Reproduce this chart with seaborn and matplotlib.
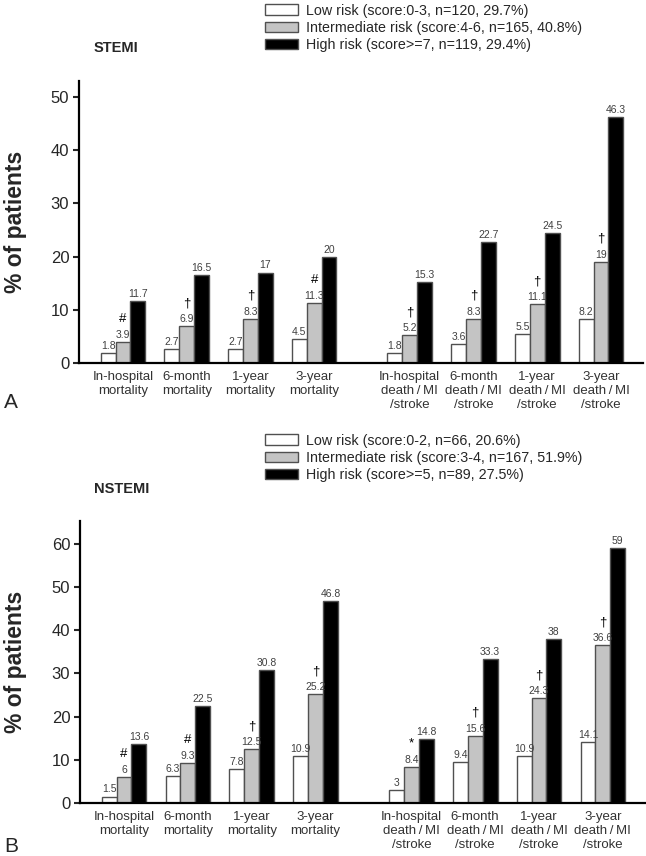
import numpy as np
import pandas as pd
import matplotlib
matplotlib.use("Agg")
import matplotlib.pyplot as plt
import seaborn as sns

# Data
categories = [
    "In-hospital\nmortality", "6-month\nmortality", "1-year\nmortality", "3-year\nmortality",
    "In-hospital\ndeath\u2009/\u2009MI\n/stroke", "6-month\ndeath\u2009/\u2009MI\n/stroke",
    "1-year\ndeath\u2009/\u2009MI\n/stroke", "3-year\ndeath\u2009/\u2009MI\n/stroke",
]
risk_levels = ["Low", "Intermediate", "High"]

stemi_low = [1.8, 2.7, 2.7, 4.5, 1.8, 3.6, 5.5, 8.2]
stemi_mid = [3.9, 6.9, 8.3, 11.3, 5.2, 8.3, 11.1, 19]
stemi_high = [11.7, 16.5, 17, 20, 15.3, 22.7, 24.5, 46.3]
stemi_marks = ["#", "†", "†", "#", "†", "†", "†", "†"]
stemi_legend = [
    "Low risk (score:0-3, n=120, 29.7%)",
    "Intermediate risk (score:4-6, n=165, 40.8%)",
    "High risk (score>=7, n=119, 29.4%)",
]

nstemi_low = [1.5, 6.3, 7.8, 10.9, 3, 9.4, 10.9, 14.1]
nstemi_mid = [6, 9.3, 12.5, 25.2, 8.4, 15.6, 24.3, 36.6]
nstemi_high = [13.6, 22.5, 30.8, 46.8, 14.8, 33.3, 38, 59]
nstemi_marks = ["#", "#", "†", "†", "*", "†", "†", "†"]
nstemi_legend = [
    "Low risk (score:0-2, n=66, 20.6%)",
    "Intermediate risk (score:3-4, n=167, 51.9%)",
    "High risk (score>=5, n=89, 27.5%)",
]

sns.set_style("ticks")
plt.rcParams["font.family"] = ["Liberation Sans", "DejaVu Sans"]

W, H = 646, 856
fig = plt.figure(figsize=(W / 100, H / 100), dpi=100)

# second block of outcomes sits a half-slot further right
idx = np.arange(len(categories))
xpos = idx + np.where(idx >= 4, 0.5, 0.0)


def draw_panel(ax, low, mid, high, marks, legend_labels, ymax, yticks, legend_top):
    df = pd.DataFrame({
        "pos": np.tile(xpos, 3),
        "value": low + mid + high,
        "risk": np.repeat(risk_levels, len(categories)),
    })
    sns.barplot(data=df, x="pos", y="value", hue="risk", hue_order=risk_levels,
                palette=["white", "#c4c4c4", "black"], native_scale=True,
                width=0.7, edgecolor="#505050", linewidth=1.0,
                errorbar=None, ax=ax)

    for cont, vals in zip(ax.containers, [low, mid, high]):
        ax.bar_label(cont, labels=[f"{v:g}" for v in vals], padding=1.5,
                     fontsize=7.5, color="#404040")

    for patch, m in zip(ax.containers[1], marks):
        ax.annotate(m, (patch.get_x() + patch.get_width() / 2, patch.get_height()),
                    xytext=(0, 16.5), textcoords="offset points",
                    ha="center", va="center", fontsize=9.5, color="black")

    handles, _ = ax.get_legend_handles_labels()
    ax.get_legend().remove()
    fig.legend(handles, legend_labels, loc="upper left",
               bbox_to_anchor=(265 / W, 1 - legend_top / H),
               frameon=False, fontsize=10.3, handlelength=2.3, handleheight=0.7,
               handletextpad=0.6, labelspacing=0.22, borderpad=0, borderaxespad=0)

    ax.set_xlim(-0.69, 8.16)
    ax.set_ylim(0, ymax)
    ax.set_yticks(yticks)
    ax.tick_params(axis="y", labelsize=12, length=4, width=1.5, pad=3)
    ax.set_xticks(xpos)
    ax.set_xticklabels(categories, fontsize=9.5, color="#333333")
    ax.tick_params(axis="x", length=0, pad=6)
    ax.set_xlabel("")
    ax.set_ylabel("% of patients", fontsize=16.5, fontweight="bold")
    ax.yaxis.set_label_coords(-0.093, 0.5)
    for side in ["top", "right"]:
        ax.spines[side].set_visible(False)
    for side in ["left", "bottom"]:
        ax.spines[side].set_linewidth(1.6)
        ax.spines[side].set_color("black")


ax_a = fig.add_axes([79 / W, 1 - 363 / H, 564 / W, 282 / H])
draw_panel(ax_a, stemi_low, stemi_mid, stemi_high, stemi_marks, stemi_legend,
           53, [0, 10, 20, 30, 40, 50], 3.5)

ax_b = fig.add_axes([80 / W, 1 - 803 / H, 565 / W, 282 / H])
draw_panel(ax_b, nstemi_low, nstemi_mid, nstemi_high, nstemi_marks, nstemi_legend,
           65.3, [0, 10, 20, 30, 40, 50, 60], 433.5)

fig.text(94 / W, 1 - 48 / H, "STEMI", fontsize=10.5, fontweight="bold", va="center")
fig.text(94 / W, 1 - 489 / H, "NSTEMI", fontsize=10.5, fontweight="bold", va="center")
fig.text(4 / W, 1 - 402 / H, "A", fontsize=15, va="center")
fig.text(4 / W, 1 - 846 / H, "B", fontsize=15, va="center")

fig.savefig("out.png", dpi=100)
